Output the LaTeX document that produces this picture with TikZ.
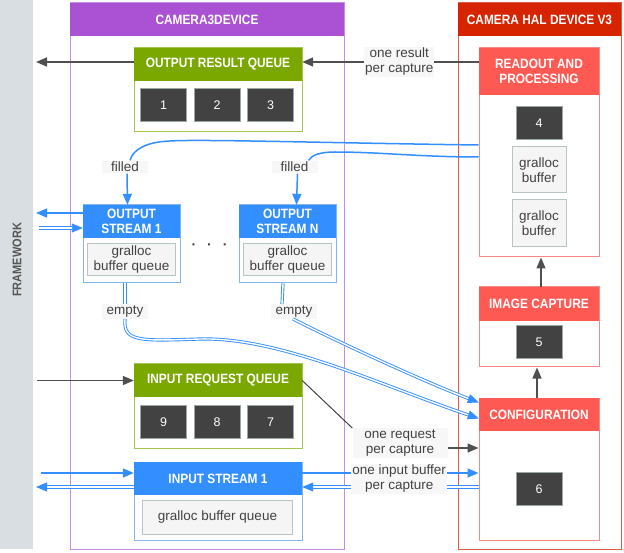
\documentclass[tikz,border=0pt]{standalone}
\usepackage{fontspec}
\setmainfont{Liberation Sans}
\newfontfamily\headfamily[FakeStretch=0.88]{Liberation Sans}
\usetikzlibrary{arrows.meta}
\definecolor{fwgray}{RGB}{216,222,225}
\definecolor{fwtext}{RGB}{85,85,85}
\definecolor{camviolet}{RGB}{171,82,212}
\definecolor{camvioletline}{RGB}{200,140,230}
\definecolor{halred}{RGB}{214,35,0}
\definecolor{halredline}{RGB}{226,88,72}
\definecolor{salmon}{RGB}{255,89,84}
\definecolor{salmonline}{RGB}{244,138,132}
\definecolor{queuegreen}{RGB}{122,168,0}
\definecolor{greenline}{RGB}{164,198,76}
\definecolor{streamblue}{RGB}{51,143,255}
\definecolor{streamline}{RGB}{132,182,242}
\definecolor{celldark}{RGB}{66,66,66}
\definecolor{cellline}{RGB}{155,165,165}
\definecolor{glight}{RGB}{245,245,245}
\definecolor{gline}{RGB}{185,196,196}
\definecolor{lblfill}{RGB}{247,247,247}
\definecolor{txt}{RGB}{66,66,66}
\definecolor{arrowgray}{RGB}{80,80,80}

\begin{document}
\begin{tikzpicture}[x=1pt, y=-1pt,
    box/.style={rectangle, draw, line width=1pt, inner sep=0pt},
    head/.style={rectangle, inner sep=0pt, text=white, align=center, font=\headfamily\bfseries\fontsize{13.5}{14.5}\selectfont},
    cell/.style={rectangle, draw=cellline, fill=celldark, line width=1pt, text=white, minimum width=46pt, minimum height=33pt, font=\fontsize{12.5}{14}\selectfont},
    gbox/.style={rectangle, draw=gline, fill=glight, line width=1pt, text=txt, align=center, inner sep=0pt, font=\fontsize{13.5}{15}\selectfont},
    lbl/.style={rectangle, fill=lblfill, text=txt, align=center, inner xsep=1pt, inner ysep=1.5pt, font=\fontsize{13.5}{15}\selectfont},
    tag/.style={lbl, minimum width=46pt},
    darkline/.style={draw=arrowgray, line width=1.5pt},
    darkarrow/.style={darkline, -{Triangle[length=11pt,width=9pt]}},
    thinline/.style={draw=txt, line width=1pt},
    blueline/.style={draw=streamblue, line width=1.5pt},
    bluearrow/.style={blueline, -{Triangle[length=11pt,width=9pt]}},
    dblline/.style={draw=streamblue, line width=0.9pt, double=white, double distance=1.4pt},
    dblarrow/.style={dblline, -{Triangle[length=11pt,width=9pt]}}
]
\path[use as bounding box, fill=white] (0,0) rectangle (624,553);

% Framework
\node[rectangle, fill=fwgray, minimum width=33pt, minimum height=549pt, inner sep=0pt] (fw) at (16.5,274.5) {};
\node[rotate=90, text=fwtext, font=\headfamily\bfseries\fontsize{12.5}{13}\selectfont] (fwlabel) at (17,260) {FRAMEWORK};
\coordinate (fw-res) at (36,62);
\coordinate (fw-out) at (36,213);
\coordinate (fw-in) at (39,228);
\coordinate (fw-req) at (37,380.5);
\coordinate (fw-isin) at (41,473);
\coordinate (fw-isout) at (36,487);

% Camera3Device
\node[box, draw=camvioletline, minimum width=274pt, minimum height=546pt] (c3d) at (207,276) {};
\node[head, fill=camviolet, minimum width=274pt, minimum height=33pt] (c3d-h) at (207,19.5) {CAMERA3DEVICE};

% Camera HAL device
\node[box, draw=halredline, minimum width=163pt, minimum height=546pt] (hal) at (539.5,276) {};
\node[head, fill=halred, minimum width=163pt, minimum height=33pt] (hal-h) at (539.5,19.5) {CAMERA HAL DEVICE V3};

% Queues
\node[box, draw=greenline, minimum width=168pt, minimum height=84pt] (orq) at (218,90) {};
\node[head, fill=queuegreen, minimum width=168pt, minimum height=33pt] (orq-h) at (218,64.5) {OUTPUT RESULT QUEUE};
\foreach \n/\x in {1/163.5,2/217,3/270.5}
    \node[cell] (r\n) at (\x,105.5) {\n};

\node[box, draw=greenline, minimum width=168pt, minimum height=84pt] (irq) at (218,406) {};
\node[head, fill=queuegreen, minimum width=168pt, minimum height=33pt] (irq-h) at (218,380.5) {INPUT REQUEST QUEUE};
\foreach \n/\x in {9/163.5,8/217,7/270.5}
    \node[cell] (q\n) at (\x,422) {\n};

% Streams
\foreach \s/\x/\lab in {1/131.5/1, n/287.5/N} {
    \node[box, draw=streamline, minimum width=97pt, minimum height=78pt] (os\s) at (\x,244) {};
    \node[head, fill=streamblue, minimum width=97pt, minimum height=33pt] (os\s-h) at (\x,221.5) {OUTPUT\\STREAM \lab};
    \node[gbox, minimum width=88pt, minimum height=32pt] (os\s-q) at (\x,260) {gralloc\\buffer queue};
}
\node[text=txt, font=\bfseries\fontsize{14}{14}\selectfont] (dots) at (209.5,247) {·\hspace{11pt}·\hspace{11pt}·};

\node[box, draw=streamline, minimum width=168pt, minimum height=78pt] (is) at (218,501) {};
\node[head, fill=streamblue, minimum width=168pt, minimum height=33pt] (is-h) at (218,478.5) {INPUT STREAM 1};
\node[gbox, minimum width=150pt, minimum height=34pt] (is-q) at (217.5,517) {gralloc buffer queue};

% HAL stages
\node[box, draw=salmonline, minimum width=120pt, minimum height=209pt] (rap) at (539,152.5) {};
\node[head, fill=salmon, minimum width=120pt, minimum height=47pt] (rap-h) at (539,71.5) {READOUT AND\\PROCESSING};
\node[cell] (p4) at (539,123.5) {4};
\node[gbox, minimum width=54pt, minimum height=46pt] (gb1) at (539,170) {gralloc\\buffer};
\node[gbox, minimum width=54pt, minimum height=47pt] (gb2) at (539,223.5) {gralloc\\buffer};

\node[box, draw=salmonline, minimum width=120pt, minimum height=80pt] (ic) at (539,327) {};
\node[head, fill=salmon, minimum width=120pt, minimum height=34pt] (ic-h) at (539,304) {IMAGE CAPTURE};
\node[cell] (p5) at (539,342.5) {5};

\node[box, draw=salmonline, minimum width=120pt, minimum height=142pt] (conf) at (539,469) {};
\node[head, fill=salmon, minimum width=120pt, minimum height=33pt] (conf-h) at (539,414.5) {CONFIGURATION};
\node[cell] (p6) at (539,489) {6};

% Connections
\draw[darkarrow] ([yshift=9.5pt]rap-h.west) -- node[lbl, pos=0.45] (res) {one result\\per capture} ([yshift=2.5pt]orq-h.east);
\draw[darkarrow] ([yshift=2.5pt]orq-h.west) -- (fw-res);
\draw[darkarrow] (fw-req) -- (irq-h.west);

\draw[darkarrow] ([xshift=-2pt]conf-h.north) -- ([xshift=-2pt]ic.south);
\draw[darkarrow] ([xshift=2pt]ic-h.north) -- ([xshift=2pt]rap.south);

\node[tag] (fill1) at (125,167) {filled};
\node[tag] (filln) at (294.5,167) {filled};
\draw[blueline] ([yshift=7.5pt]rap.west) .. controls (330,143) and (200,139) .. (170,141) .. controls (145,142) and (133,150) .. ([xshift=5pt]fill1.north);
\draw[bluearrow] ([xshift=2pt]fill1.south) -- ([xshift=-4pt]os1-h.north);
\draw[blueline] ([yshift=-4.5pt]rap.west) .. controls (420,157) and (380,152) .. (335,152) .. controls (320,152) and (312,155) .. ([xshift=14pt]filln.north);
\draw[bluearrow] ([xshift=3pt]filln.south) -- ([xshift=9pt]osn-h.north);

\node[tag] (empty1) at (125,311.5) {empty};
\node[tag] (emptyn) at (294,311.5) {empty};
\draw[dblline] ([xshift=-6.5pt]os1.south) -- (empty1.north);
\draw[dblline] ([xshift=-4.5pt]osn.south) -- ([xshift=-12pt]emptyn.north);
\draw[dblarrow] (empty1.south) .. controls (123,342) and (140,341) .. (200,339) .. controls (280,337) and (380,385) .. ([yshift=-4pt]conf-h.west);
\draw[dblarrow] ([xshift=-1pt]emptyn.south) .. controls (330,338) and (420,380) .. ([yshift=12pt]conf-h.west);

\draw[bluearrow] ([yshift=8.5pt]os1-h.west) -- (fw-out);
\draw[dblarrow] (fw-in) -- ([yshift=-6.5pt]os1-h.west);
\draw[bluearrow] (fw-isin) -- ([yshift=5.5pt]is-h.west);
\draw[dblarrow] ([yshift=-8.5pt]is-h.west) -- (fw-isout);

\node[lbl, minimum width=95pt] (req) at (400,443) {one request\\per capture};
\draw[thinline] (irq-h.east) -- (req.north west);
\draw[darkarrow] ([yshift=-5pt]req.east) -- ([yshift=21pt]conf.west);

\draw[dblarrow] ([yshift=-18pt]conf.west) -- ([yshift=-8.5pt]is-h.east);
\draw[bluearrow] ([yshift=5.5pt]is-h.east) -- node[lbl, minimum width=95pt, pos=0.55, yshift=-6pt] (inbuf) {one input buffer\\per capture} ([yshift=-4pt]conf.west);

\end{tikzpicture}
\end{document}
